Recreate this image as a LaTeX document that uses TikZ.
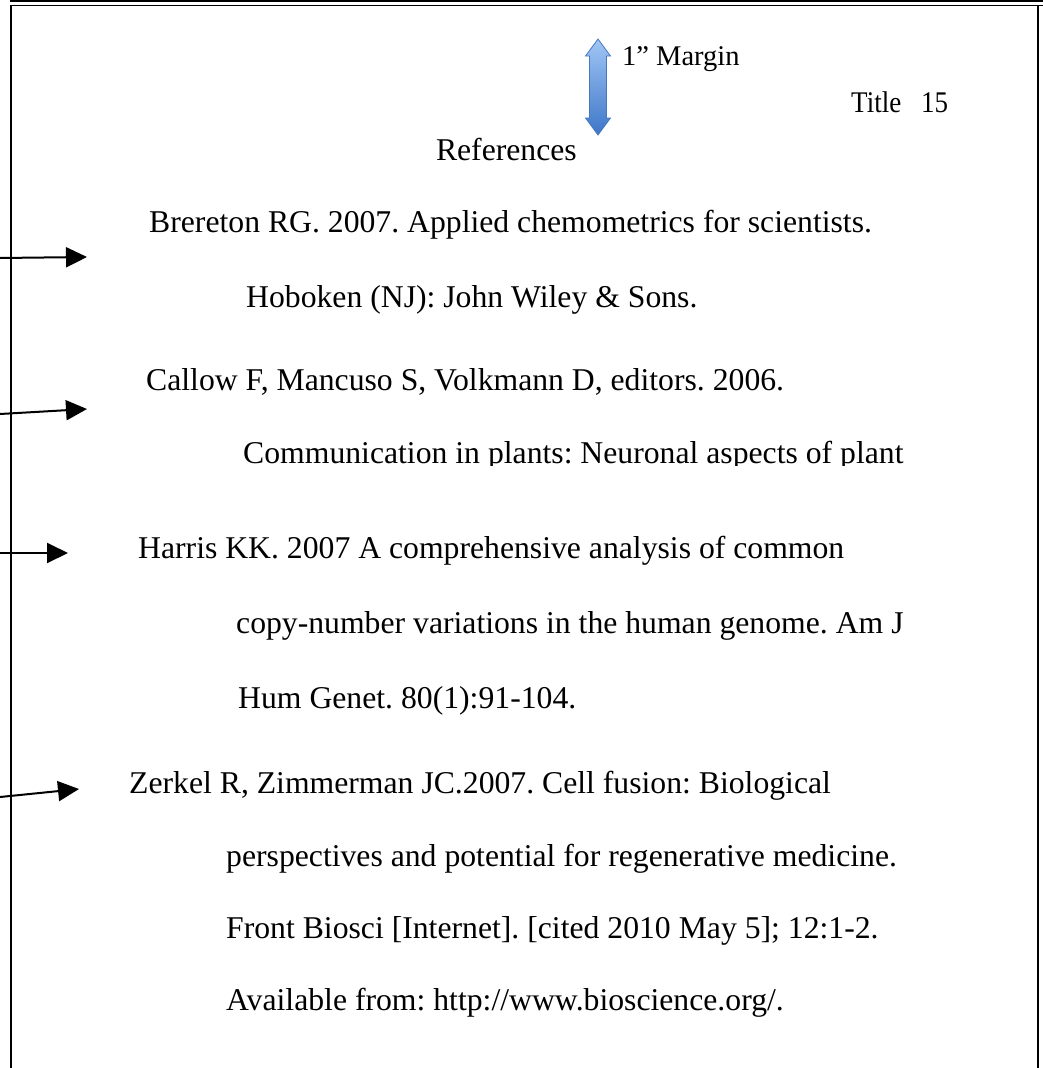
\documentclass[tikz,border=0pt]{standalone}
\usepackage{fontspec}
\setmainfont{Liberation Serif}
\newfontfamily\reffont{Liberation Serif}
\newfontfamily\titlefont[FakeStretch=0.9]{Liberation Serif}
\usetikzlibrary{arrows.meta}
\frenchspacing
\tikzset{
  reftext/.style={anchor=base west, inner sep=0pt, font=\reffont\fontsize{31.7}{31.7}\selectfont},
  headtext/.style={anchor=base west, inner sep=0pt, font=\fontsize{28.5}{28.5}\selectfont},
  pointer/.style={line width=2pt, -{Triangle[length=21pt,width=20pt]}},
  frameline/.style={line width=2pt, black},
}
\begin{document}
\begin{tikzpicture}[x=1pt,y=-1pt]
\useasboundingbox (0,0) rectangle (1043,1068);
% frame
\draw[frameline] (10,1) -- (1043,1);
\draw[line width=1pt] (10,5.5) -- (1043,5.5);
\draw[frameline] (10.5,5) -- (10.5,1068);
\draw[frameline] (1038,5) -- (1038,1068);
% blue double arrow
\path[draw={rgb,255:red,70;green,120;blue,190}, line width=0.8pt,
  top color={rgb,255:red,160;green,198;blue,245},
  bottom color={rgb,255:red,62;green,118;blue,200}]
  (598,39) -- (610.5,56) -- (606.5,56) -- (606.5,118) -- (610.5,118) -- (598,135)
  -- (585.5,118) -- (589.5,118) -- (589.5,56) -- (585.5,56) -- cycle;
\node[headtext] (margin) at (622,65) {1” Margin};
\node[headtext, font=\titlefont\fontsize{30}{30}\selectfont] (title) at (851,112) {Title\hspace{20pt}15};
\node[reftext, anchor=base east] (refs) at (577,160) {References};
% entries
\node[reftext] (r1a) at (149,232) {Brereton RG. 2007. Applied chemometrics for scientists.};
\node[reftext] (r1b) at (246,307) {Hoboken (NJ): John Wiley \& Sons.};
\node[reftext] (r2a) at (146,390) {Callow F, Mancuso S, Volkmann D, editors. 2006.};
\begin{scope}
\clip (0,0) rectangle (1043,465.5);
\node[reftext] (r2b) at (243,463) {Communication in plants: Neuronal aspects of plant};
\end{scope}
\node[reftext] (r3a) at (138,558) {Harris KK. 2007 A comprehensive analysis of common};
\node[reftext] (r3b) at (236,633) {copy-number variations in the human genome. Am J};
\node[reftext] (r3c) at (238,708) {Hum Genet. 80(1):91-104.};
\node[reftext] (r4a) at (129,793) {Zerkel R, Zimmerman JC.2007. Cell fusion: Biological};
\node[reftext] (r4b) at (226,866) {perspectives and potential for regenerative medicine.};
\node[reftext] (r4c) at (226,938) {Front Biosci [Internet]. [cited 2010 May 5]; 12:1-2.};
\node[reftext] (r4d) at (226,1010) {Available from: http://www.bioscience.org/.};
% pointers
\coordinate (p1s) at (0,258); \coordinate (p1e) at (87,257);
\coordinate (p2s) at (0,414); \coordinate (p2e) at (87,409);
\coordinate (p3s) at (0,553); \coordinate (p3e) at (68,553);
\coordinate (p4s) at (0,797); \coordinate (p4e) at (79,789);
\draw[pointer] (p1s) -- (p1e);
\draw[pointer] (p2s) -- (p2e);
\draw[pointer] (p3s) -- (p3e);
\draw[pointer] (p4s) -- (p4e);
\end{tikzpicture}
\end{document}
